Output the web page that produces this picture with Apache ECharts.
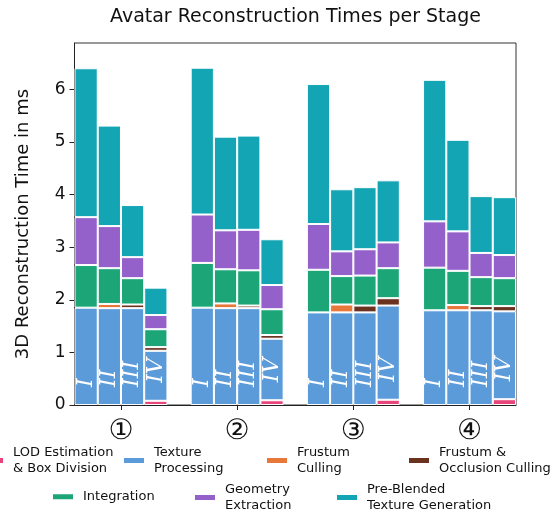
<!DOCTYPE html>
<html>
<head>
<meta charset="utf-8">
<style>
  html, body { margin: 0; padding: 0; background: #fff; }
  #chart { width: 558px; height: 518px; }
</style>
<script src="https://cdn.jsdelivr.net/npm/echarts@6/dist/echarts.min.js"></script>
</head>
<body>
<div id="chart"></div>
<script>
// Stages (groups) and variants (bars inside each group)
const stages = ['①', '②', '③', '④'];
const variants = ['I', 'II', 'III', 'IV'];
const yTicks = [0, 1, 2, 3, 4, 5, 6];

// Times in ms, one row per stage, values for variants I..IV
const lodEstimation = [
  [0, 0, 0, 0.08],
  [0, 0, 0, 0.09],
  [0, 0, 0, 0.10],
  [0, 0, 0, 0.11]
];
const textureProcessing = [
  [1.85, 1.84, 1.84, 0.95],
  [1.85, 1.84, 1.84, 1.17],
  [1.76, 1.76, 1.76, 1.79],
  [1.80, 1.80, 1.80, 1.67]
];
const frustumCulling = [
  [0, 0.08, 0, 0],
  [0, 0.09, 0, 0],
  [0, 0.15, 0, 0],
  [0, 0.10, 0, 0]
];
const occlusionCulling = [
  [0, 0, 0.07, 0.07],
  [0, 0, 0.05, 0.07],
  [0, 0, 0.13, 0.14],
  [0, 0, 0.08, 0.10]
];
const integration = [
  [0.81, 0.68, 0.50, 0.34],
  [0.85, 0.65, 0.67, 0.49],
  [0.81, 0.54, 0.57, 0.57],
  [0.81, 0.65, 0.55, 0.53]
];
const geometryExtraction = [
  [0.91, 0.80, 0.40, 0.27],
  [0.92, 0.74, 0.77, 0.46],
  [0.87, 0.47, 0.50, 0.49],
  [0.88, 0.75, 0.46, 0.44]
];
const preBlendedTexture = [
  [2.83, 1.91, 0.99, 0.52],
  [2.79, 1.78, 1.79, 0.87],
  [2.66, 1.18, 1.18, 1.18],
  [2.69, 1.74, 1.08, 1.10]
];

// Each stage takes 4 bar slots plus one empty slot between stages
const SLOTS = variants.length + 1;
const slotCount = stages.length * SLOTS - 1;
const slotNames = Array.from({ length: slotCount }, (_, i) => 's' + i);

function toSlots(rows) {
  const out = new Array(slotCount).fill('-');
  rows.forEach((row, g) => row.forEach((v, i) => {
    out[g * SLOTS + i] = v > 0 ? v : '-';
  }));
  return out;
}

const seriesDefs = [
  { name: 'LOD Estimation & Box Division', legend: 'LOD Estimation\n& Box Division', color: '#e8467b', rows: lodEstimation },
  { name: 'Texture Processing', legend: 'Texture\nProcessing', color: '#5b9bd9', rows: textureProcessing },
  { name: 'Frustum Culling', legend: 'Frustum\nCulling', color: '#e8773a', rows: frustumCulling },
  { name: 'Frustum & Occlusion Culling', legend: 'Frustum &\nOcclusion Culling', color: '#6b3220', rows: occlusionCulling },
  { name: 'Integration', legend: 'Integration', color: '#1ca678', rows: integration },
  { name: 'Geometry Extraction', legend: 'Geometry\nExtraction', color: '#9461ca', rows: geometryExtraction },
  { name: 'Pre-Blended Texture Generation', legend: 'Pre-Blended\nTexture Generation', color: '#14a5b5', rows: preBlendedTexture }
];

// Legend layout: icon left x and item top y for each entry
const legendSpots = [
  { left: -19, top: 445 },
  { left: 122, top: 445 },
  { left: 265, top: 445 },
  { left: 407, top: 445 },
  { left: 51, top: 489 },
  { left: 193, top: 482 },
  { left: 335, top: 482 }
];

const FONT = 'DejaVu Sans';

const series = seriesDefs.map((d) => {
  const s = {
    name: d.name,
    type: 'bar',
    stack: 'total',
    xAxisIndex: 0,
    yAxisIndex: 0,
    barWidth: '100%',
    barCategoryGap: '0%',
    itemStyle: { color: d.color, borderColor: '#ffffff', borderWidth: 1 },
    emphasis: { disabled: true },
    data: toSlots(d.rows)
  };
  if (d.rows === textureProcessing) {
    s.label = {
      show: true,
      position: 'insideBottom',
      distance: 18,
      rotate: 90,
      align: 'left',
      verticalAlign: 'middle',
      color: '#ffffff',
      fontFamily: 'DejaVu Serif',
      fontStyle: 'italic',
      fontSize: 22,
      formatter: (p) => variants[p.dataIndex % SLOTS] || ''
    };
  }
  return s;
});

const legends = seriesDefs.map((d, i) => ({
  data: [d.name],
  left: legendSpots[i].left,
  top: legendSpots[i].top,
  padding: 0,
  icon: 'rect',
  itemWidth: 22,
  itemHeight: 7,
  formatter: () => d.legend,
  textStyle: {
    fontFamily: FONT,
    fontSize: 13,
    lineHeight: 15.6,
    color: '#111',
    padding: [0, 0, 0, 4]
  }
}));

const stageTicks = stages.map((_, g) => g * SLOTS + 2);

const option = {
  animation: false,
  backgroundColor: '#ffffff',
  title: {
    text: 'Avatar Reconstruction Times per Stage',
    left: 105,
    top: 3,
    textStyle: { fontFamily: FONT, fontSize: 19, fontWeight: 'normal', color: '#111' }
  },
  legend: legends,
  grid: {
    left: 74.5, right: 42, top: 43, bottom: 113,
    show: true, borderColor: '#333', borderWidth: 1, backgroundColor: 'transparent'
  },
  xAxis: [
    {
      type: 'category',
      data: slotNames,
      boundaryGap: true,
      axisLine: { show: true, lineStyle: { color: '#222', width: 1 } },
      axisTick: { show: false },
      axisLabel: { show: false }
    },
    {
      type: 'value',
      position: 'bottom',
      min: 0,
      max: slotCount,
      axisLine: { show: false },
      splitLine: { show: false },
      axisTick: { show: true, customValues: stageTicks, length: 5, lineStyle: { color: '#222' } },
      axisLabel: {
        customValues: stageTicks,
        margin: 13,
        fontFamily: FONT,
        fontSize: 28,
        color: '#111',
        formatter: (v) => stages[Math.round((v - 2) / SLOTS)] || ''
      }
    }
  ],
  yAxis: {
    type: 'value',
    min: 0,
    max: 6.88,
    name: '3D Reconstruction Time in ms',
    nameLocation: 'middle',
    nameGap: 42,
    nameTextStyle: { fontFamily: FONT, fontSize: 18, color: '#111' },
    axisLine: { show: true, lineStyle: { color: '#222', width: 1 } },
    axisTick: { show: true, customValues: yTicks, length: 5, lineStyle: { color: '#222' } },
    axisLabel: { customValues: yTicks, margin: 9, fontFamily: FONT, fontSize: 17, color: '#111' },
    splitLine: { show: false }
  },
  series: series
};

const chart = echarts.init(document.getElementById('chart'), null, { renderer: 'canvas' });
chart.setOption(option);
</script>
</body>
</html>
